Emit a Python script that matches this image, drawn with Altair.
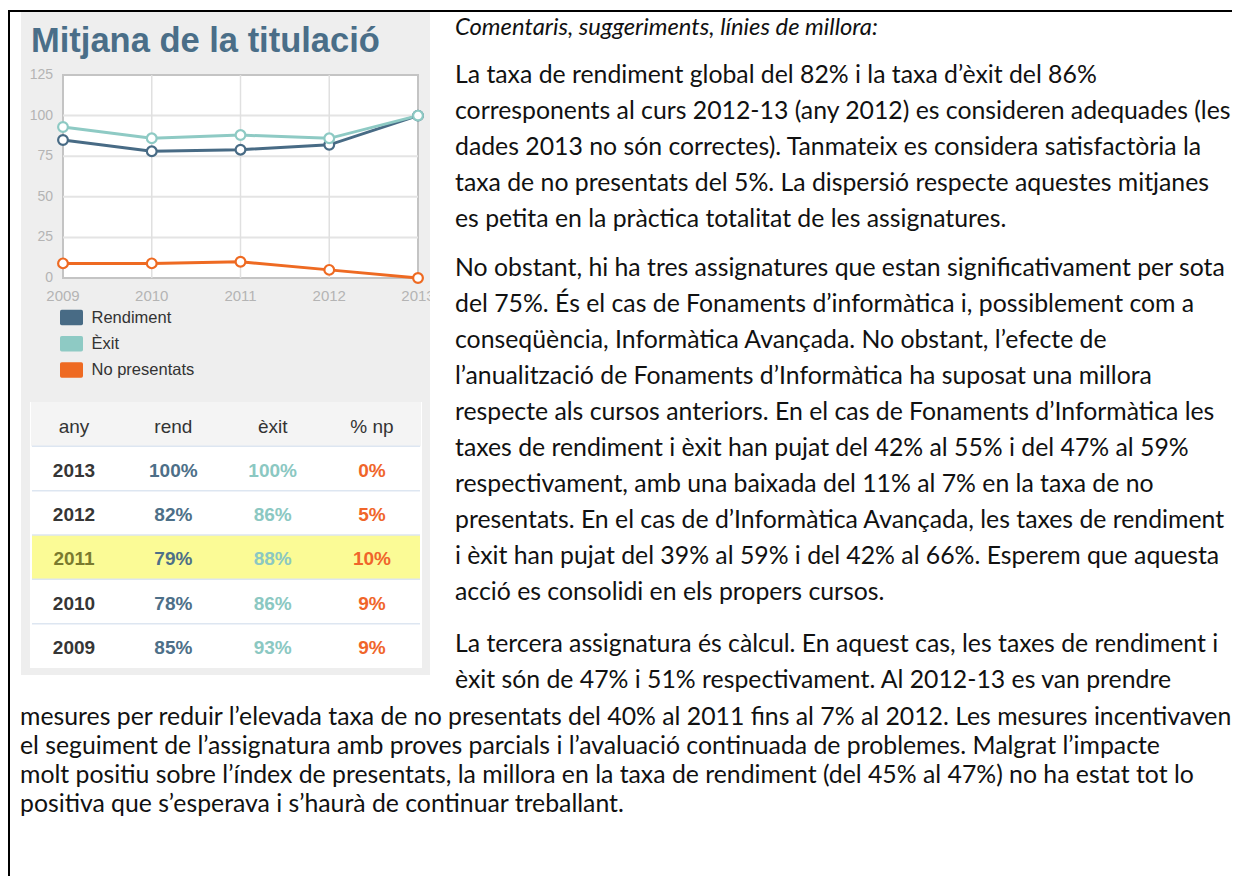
import altair as alt
import pandas as pd

# ---------------- data ----------------
years = [2009, 2010, 2011, 2012, 2013]
series = ["Rendiment", "Èxit", "No presentats"]
rendiment = [85, 78, 79, 82, 100]
exit_rate = [93, 86, 88, 86, 100]
no_presentats = [9, 9, 10, 5, 0]
series_colors = ["#486b85", "#8ecac4", "#ee6a22"]
y_ticks = [0, 25, 50, 75, 100, 125]

chart_title = "Mitjana de la titulació"

table_header = ["any", "rend", "èxit", "% np"]
table_years = ["2013", "2012", "2011", "2010", "2009"]
table_rend = ["100%", "82%", "79%", "78%", "85%"]
table_exit = ["100%", "86%", "88%", "86%", "93%"]
table_np = ["0%", "5%", "10%", "9%", "9%"]
table_colors = ["#363636", "#4d6f88", "#8bc8c2", "#f0652a"]
highlight_year = "2011"

comment_heading = ["Comentaris, suggeriments, línies de millora:"]
para1 = [
    "La taxa de rendiment global del 82% i la taxa d’èxit del 86%",
    "corresponents al curs 2012-13 (any 2012) es consideren adequades (les",
    "dades 2013 no són correctes). Tanmateix es considera satisfactòria la",
    "taxa de no presentats del 5%. La dispersió respecte aquestes mitjanes",
    "es petita en la pràctica totalitat de les assignatures.",
]
para2 = [
    "No obstant, hi ha tres assignatures que estan significativament per sota",
    "del 75%. És el cas de Fonaments d’informàtica i, possiblement com a",
    "conseqüència, Informàtica Avançada.  No obstant, l’efecte de",
    "l’anualització de Fonaments d’Informàtica ha suposat una millora",
    "respecte als cursos anteriors. En el cas de Fonaments d’Informàtica les",
    "taxes de rendiment i èxit han pujat del 42% al 55% i del 47% al 59%",
    "respectivament, amb una baixada del 11% al 7% en la taxa de no",
    "presentats. En el cas de d’Informàtica Avançada, les taxes de rendiment",
    "i èxit han pujat del 39% al 59% i del 42% al 66%. Esperem que aquesta",
    "acció es consolidi en els propers cursos.",
]
para3_side = [
    "La tercera assignatura és càlcul. En aquest cas, les taxes de rendiment i",
    "èxit són de 47% i 51% respectivament. Al 2012-13 es van prendre",
]
para3_full = [
    "mesures per reduir l’elevada taxa de no presentats del 40% al 2011 fins al 7% al 2012. Les mesures incentivaven",
    "el seguiment de l’assignatura amb proves parcials i l’avaluació continuada de problemes. Malgrat l’impacte",
    "molt positiu sobre l’índex de presentats, la millora en la taxa de rendiment (del 45% al 47%) no ha estat tot lo",
    "positiva que s’esperava i s’haurà de continuar treballant.",
]

# ---------------- layout helpers ----------------
W, H = 1224, 868


def px(v):
    """page coordinate -> chart coordinate (page has an 8px margin)"""
    return v - 8


one = pd.DataFrame({"k": [0]})
layers = []

# document border (top and left)
layers.append(alt.Chart(one).mark_rule(color="black", strokeWidth=2).encode(
    x=alt.value(0), x2=alt.value(W), y=alt.value(px(11))))
layers.append(alt.Chart(one).mark_rule(color="black", strokeWidth=2).encode(
    x=alt.value(1), y=alt.value(px(10)), y2=alt.value(H)))

# grey panel
layers.append(alt.Chart(one).mark_rect(color="#eeeeee").encode(
    x=alt.value(px(21)), x2=alt.value(px(430)), y=alt.value(px(12)), y2=alt.value(px(675))))

# title
layers.append(alt.Chart(pd.DataFrame({"t": [chart_title]})).mark_text(
    font="Liberation Sans", fontWeight="bold", fontSize=34.5, color="#4a6e88",
    align="left", baseline="alphabetic").encode(
    x=alt.value(px(31)), y=alt.value(px(52)), text="t:N"))

# ---------------- line chart ----------------
xs = alt.Scale(domain=[years[0], years[-1]], range=[px(63), px(418)], nice=False, zero=False)
ys = alt.Scale(domain=[y_ticks[0], y_ticks[-1]], range=[px(278), px(75)], nice=False, zero=False)
col_scale = alt.Scale(domain=series, range=series_colors)

layers.append(alt.Chart(one).mark_rect(fill="white", stroke="#c4c4c4", strokeWidth=2).encode(
    x=alt.X(datum=years[0], type="quantitative", scale=xs, axis=None),
    x2=alt.X2(datum=years[-1]),
    y=alt.Y(datum=y_ticks[0], type="quantitative", scale=ys, axis=None),
    y2=alt.Y2(datum=y_ticks[-1])))

grid_y = pd.DataFrame({"v": y_ticks[1:-1]})
layers.append(alt.Chart(grid_y).mark_rule(color="#e4e4e4", strokeWidth=2).encode(
    y=alt.Y("v:Q", scale=ys, axis=None),
    x=alt.X(datum=years[0], type="quantitative", scale=xs, axis=None),
    x2=alt.X2(datum=years[-1])))
grid_x = pd.DataFrame({"year": years[1:-1]})
layers.append(alt.Chart(grid_x).mark_rule(color="#e0e0e0", strokeWidth=1.5).encode(
    x=alt.X("year:Q", scale=xs, axis=None),
    y=alt.Y(datum=y_ticks[0], type="quantitative", scale=ys, axis=None),
    y2=alt.Y2(datum=y_ticks[-1])))

ylab = pd.DataFrame({"v": y_ticks, "label": [str(v) for v in y_ticks]})
layers.append(alt.Chart(ylab).mark_text(
    font="Liberation Sans", fontSize=14, color="#b4b4b4", align="right", baseline="middle", dx=-10).encode(
    x=alt.X(datum=years[0], type="quantitative", scale=xs, axis=None),
    y=alt.Y("v:Q", scale=ys, axis=None), text="label:N"))
xlab = pd.DataFrame({"year": years, "label": [str(y) for y in years]})
layers.append(alt.Chart(xlab).mark_text(
    font="Liberation Sans", fontSize=15, color="#b4b4b4", align="center", baseline="middle", dy=18).encode(
    x=alt.X("year:Q", scale=xs, axis=None),
    y=alt.Y(datum=y_ticks[0], type="quantitative", scale=ys, axis=None), text="label:N"))
# panel edge clips the last year label
layers.append(alt.Chart(one).mark_rect(color="white").encode(
    x=alt.value(px(430)), x2=alt.value(px(452)), y=alt.value(px(284)), y2=alt.value(px(312))))

values = [rendiment, exit_rate, no_presentats]
series_dfs = [pd.DataFrame({"series": s, "year": years, "value": v}) for s, v in zip(series, values)]
for d in series_dfs:
    layers.append(alt.Chart(d).mark_line(strokeWidth=3).encode(
        x=alt.X("year:Q", scale=xs, axis=None),
        y=alt.Y("value:Q", scale=ys, axis=None),
        color=alt.Color("series:N", scale=col_scale, legend=None)))
for d in series_dfs:
    layers.append(alt.Chart(d).mark_point(filled=True, fill="white", size=95, strokeWidth=2.2, opacity=1).encode(
        x=alt.X("year:Q", scale=xs, axis=None),
        y=alt.Y("value:Q", scale=ys, axis=None),
        stroke=alt.Stroke("series:N", scale=col_scale, legend=None)))

# ---------------- legend ----------------
swatch = ("M-0.85,-0.68 H0.85 Q1,-0.68 1,-0.53 V0.53 Q1,0.68 0.85,0.68 H-0.85 "
          "Q-1,0.68 -1,0.53 V-0.53 Q-1,-0.68 -0.85,-0.68 Z")
leg_y = alt.Scale(type="point", domain=series, range=[px(317.5), px(370)], padding=0)
leg = pd.DataFrame({"series": series})
layers.append(alt.Chart(leg).mark_point(shape=swatch, filled=True, size=529, strokeWidth=0, opacity=1).encode(
    x=alt.value(px(71.5)), y=alt.Y("series:N", scale=leg_y, axis=None),
    fill=alt.Fill("series:N", scale=col_scale, legend=None)))
layers.append(alt.Chart(leg).mark_text(
    font="Liberation Sans", fontSize=16.5, color="#333333", align="left", baseline="middle").encode(
    x=alt.value(px(91.5)), y=alt.Y("series:N", scale=leg_y, axis=None), text="series:N"))

# ---------------- table ----------------
row_keys = ["header"] + table_years
row_scale = alt.Scale(type="band", domain=row_keys, range=[px(402), px(668)], paddingInner=0, paddingOuter=0)
tcol_scale = alt.Scale(type="point", domain=table_header, range=[px(74), px(372)], padding=0)

layers.append(alt.Chart(one).mark_rect(color="white").encode(
    x=alt.value(px(30)), x2=alt.value(px(422)), y=alt.value(px(402)), y2=alt.value(px(668))))
layers.append(alt.Chart(pd.DataFrame({"row": ["header"]})).mark_rect(color="#f4f4f4").encode(
    x=alt.value(px(31)), x2=alt.value(px(421)), y=alt.Y("row:N", scale=row_scale, axis=None)))
layers.append(alt.Chart(pd.DataFrame({"row": [highlight_year]})).mark_rect(color="#fbfb96").encode(
    x=alt.value(px(32)), x2=alt.value(px(420)), y=alt.Y("row:N", scale=row_scale, axis=None)))
layers.append(alt.Chart(pd.DataFrame({"row": row_keys[:-1]})).mark_rule(color="#dde6f1", strokeWidth=1.5).encode(
    x=alt.value(px(32)), x2=alt.value(px(420)),
    y=alt.Y("row:N", scale=row_scale, axis=None, bandPosition=1)))

hdr = pd.DataFrame({"row": "header", "col": table_header, "text": table_header})
layers.append(alt.Chart(hdr).mark_text(
    font="Liberation Sans", fontSize=19, color="#333333", baseline="middle", dy=3).encode(
    x=alt.X("col:N", scale=tcol_scale, axis=None),
    y=alt.Y("row:N", scale=row_scale, axis=None), text="text:N"))

body_rows = []
for i, yr in enumerate(table_years):
    for c, cells in zip(table_header, [table_years, table_rend, table_exit, table_np]):
        body_rows.append({"row": yr, "col": c, "text": cells[i]})
body = pd.DataFrame(body_rows)
layers.append(alt.Chart(body).mark_text(
    font="Liberation Sans", fontSize=19, fontWeight="bold", baseline="middle", dy=2).encode(
    x=alt.X("col:N", scale=tcol_scale, axis=None),
    y=alt.Y("row:N", scale=row_scale, axis=None), text="text:N",
    color=alt.condition(f"datum.row == '{highlight_year}' && datum.col == '{table_header[0]}'",
                        alt.value("#7a7a2e"),
                        alt.Color("col:N", scale=alt.Scale(domain=table_header, range=table_colors), legend=None))))


# ---------------- comment text ----------------
def block(lines, x, y0, step, size, italic=False):
    d = pd.DataFrame({"n": list(range(len(lines))), "text": lines})
    sc = alt.Scale(domain=[0, 1], range=[px(y0), px(y0 + step)], nice=False, zero=False)
    kw = dict(font="Lato", fontSize=size, color="#111111", align="left", baseline="middle")
    if italic:
        kw["fontStyle"] = "italic"
    return alt.Chart(d).mark_text(**kw).encode(
        x=alt.value(px(x)), y=alt.Y("n:Q", scale=sc, axis=None), text="text:N")


FS = 24.8
layers.append(block(comment_heading, 455, 28, 36, 23.8, italic=True))
layers.append(block(para1, 455, 76, 36, FS))
layers.append(block(para2, 455, 269, 36, FS))
layers.append(block(para3_side, 455, 645, 36, FS))
layers.append(block(para3_full, 20, 718, 29, FS))

chart = alt.layer(*layers).resolve_scale(
    x="independent", y="independent", color="independent", stroke="independent", fill="independent"
).properties(width=W, height=H, padding=0, autosize="none").configure_view(stroke=None)

chart.save("out.html", embed_options={"renderer": "svg", "actions": False})
